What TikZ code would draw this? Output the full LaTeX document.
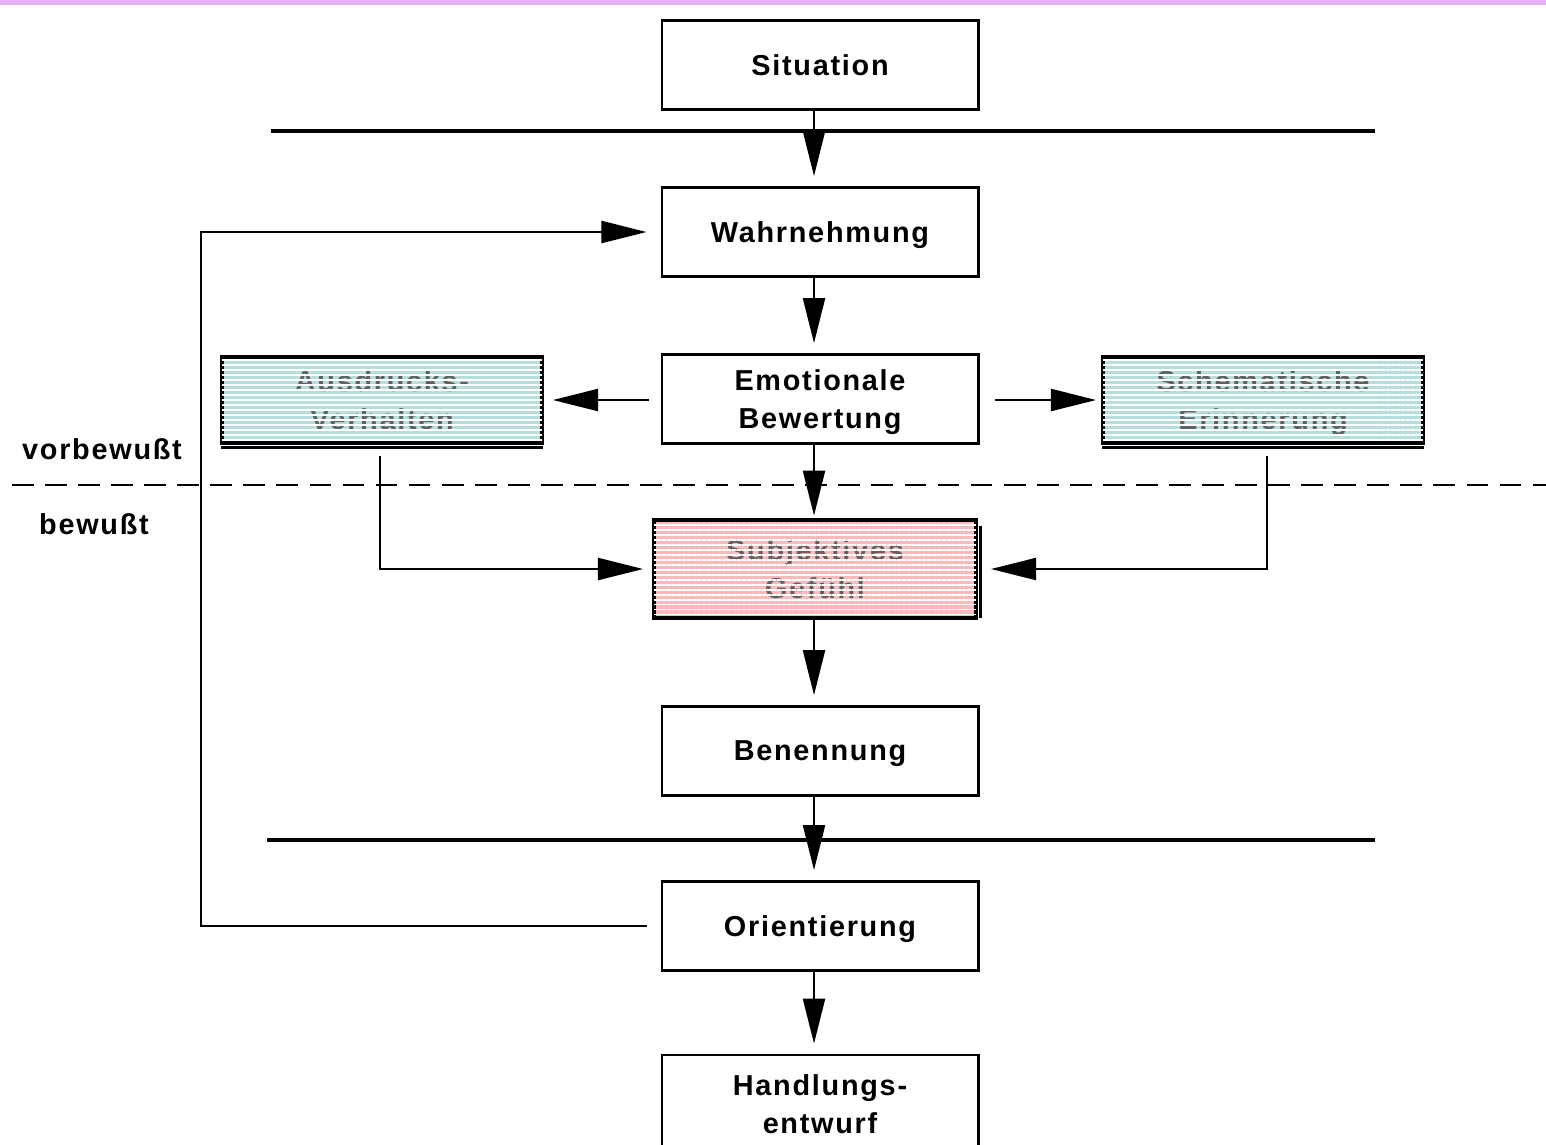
\documentclass[tikz,border=0pt]{standalone}
\usepackage{fontspec}
\setmainfont[LetterSpace=6]{Liberation Sans}
\usetikzlibrary{arrows.meta,patterns.meta}
\definecolor{lilabar}{RGB}{232,178,248}
\definecolor{tealbox}{RGB}{182,222,222}
\definecolor{rosebox}{RGB}{248,186,186}
\begin{document}
\begin{tikzpicture}[x=0.01cm,y=-0.01cm,
  every node/.style={font=\fontsize{8.2}{10.8}\selectfont\bfseries,align=center},
  stufe/.style={draw,line width=0.8pt,minimum width=3.16cm,minimum height=0.89cm,inner sep=0pt,text depth=0pt},
  farbbox/.style={stufe,minimum width=3.19cm,minimum height=0.85cm,text=black!62},
  streifen/.style={pattern={Lines[distance=1.42pt,line width=0.45pt]},pattern color=white},
  pfeil/.style={line width=0.6pt,-{Triangle[length=4.5mm,width=2.2mm]},shorten >=1mm},
  trenner/.style={line width=0.9pt}]
\clip (0,0) rectangle (1546,1144);
\fill [white] (0,0) rectangle (1546,1144);
\fill [lilabar] (0,0) rectangle (1546,5);
% Stufen in der Mitte
\node [stufe] (sit) at (820,65) {Situation};
\node [stufe] (wahr) at (820,232) {Wahrnehmung};
\node [stufe] (emo) at (820,399) {Emotionale\\Bewertung};
\node [stufe,fill=rosebox,minimum width=3.21cm,minimum height=0.96cm,text=black!62] (subj) at (815,569) {Subjektives\\Gefühl};
\node [stufe] (ben) at (820,751) {Benennung};
\node [stufe] (ori) at (820,926) {Orientierung};
\node [stufe,minimum height=0.98cm] (hand) at (820,1104) {Handlungs-\\entwurf};
% Seitenkaesten
\node [farbbox,fill=tealbox] (aus) at (382,400) {Ausdrucks-\\Verhalten};
\node [farbbox,fill=tealbox] (schem) at (1263,400) {Schematische\\Erinnerung};
\fill [streifen] (aus.south west) rectangle (aus.north east);
\fill [streifen] (schem.south west) rectangle (schem.north east);
\fill [streifen] (subj.south west) rectangle (subj.north east);
\draw [line width=0.8pt] (aus.south west) rectangle (aus.north east);
\draw [line width=0.8pt] (schem.south west) rectangle (schem.north east);
\draw [line width=0.8pt] (subj.south west) rectangle (subj.north east);
\draw [line width=0.7pt] ([yshift=-0.35mm]aus.south west) -- ([yshift=-0.35mm]aus.south east);
\draw [line width=0.7pt] ([yshift=-0.35mm]schem.south west) -- ([yshift=-0.35mm]schem.south east);
\draw [line width=0.7pt] ([xshift=0.35mm,yshift=-0.6mm]subj.north east) -- ([xshift=0.35mm]subj.south east);
% Trennlinien
\draw [trenner] (271,131) -- (1375,131);
\draw [trenner] (267,840) -- (1375,840);
\draw [line width=0.7pt,dash pattern=on 6.2pt off 3.2pt] (12,485) -- (1546,485);
\node (vor) at (102,449) {vorbewußt};
\node (bew) at (94,524) {bewußt};
% Pfeile
\coordinate (achse) at (814,0);
\coordinate (links) at (201,0);
\draw [pfeil] (sit.south -| achse) -- (wahr.north -| achse);
\draw [pfeil] (wahr.south -| achse) -- (emo.north -| achse);
\draw [pfeil,shorten >=0.4mm] (emo.south -| achse) -- (subj.north -| achse);
\draw [pfeil] (subj.south -| achse) -- (ben.north -| achse);
\draw [pfeil] (ben.south -| achse) -- (ori.north -| achse);
\draw [pfeil] (ori.south -| achse) -- (hand.north -| achse);
\draw [pfeil,shorten <=1.2mm] (emo.west |- aus.east) -- (aus.east);
\draw [pfeil,shorten <=1.5mm,shorten >=0.6mm] (emo.east |- schem.west) -- (schem.west);
\draw [pfeil,shorten <=1.2mm] ([xshift=-0.2mm]aus.south) |- (subj.west);
\draw [pfeil,shorten <=1.2mm,shorten >=1.4mm] ([xshift=0.4mm]schem.south) |- (subj.east);
\draw [pfeil,shorten <=1.4mm,shorten >=1.4mm] (ori.west) -- (ori.west -| links) |- (wahr.west);
\end{tikzpicture}
\end{document}
